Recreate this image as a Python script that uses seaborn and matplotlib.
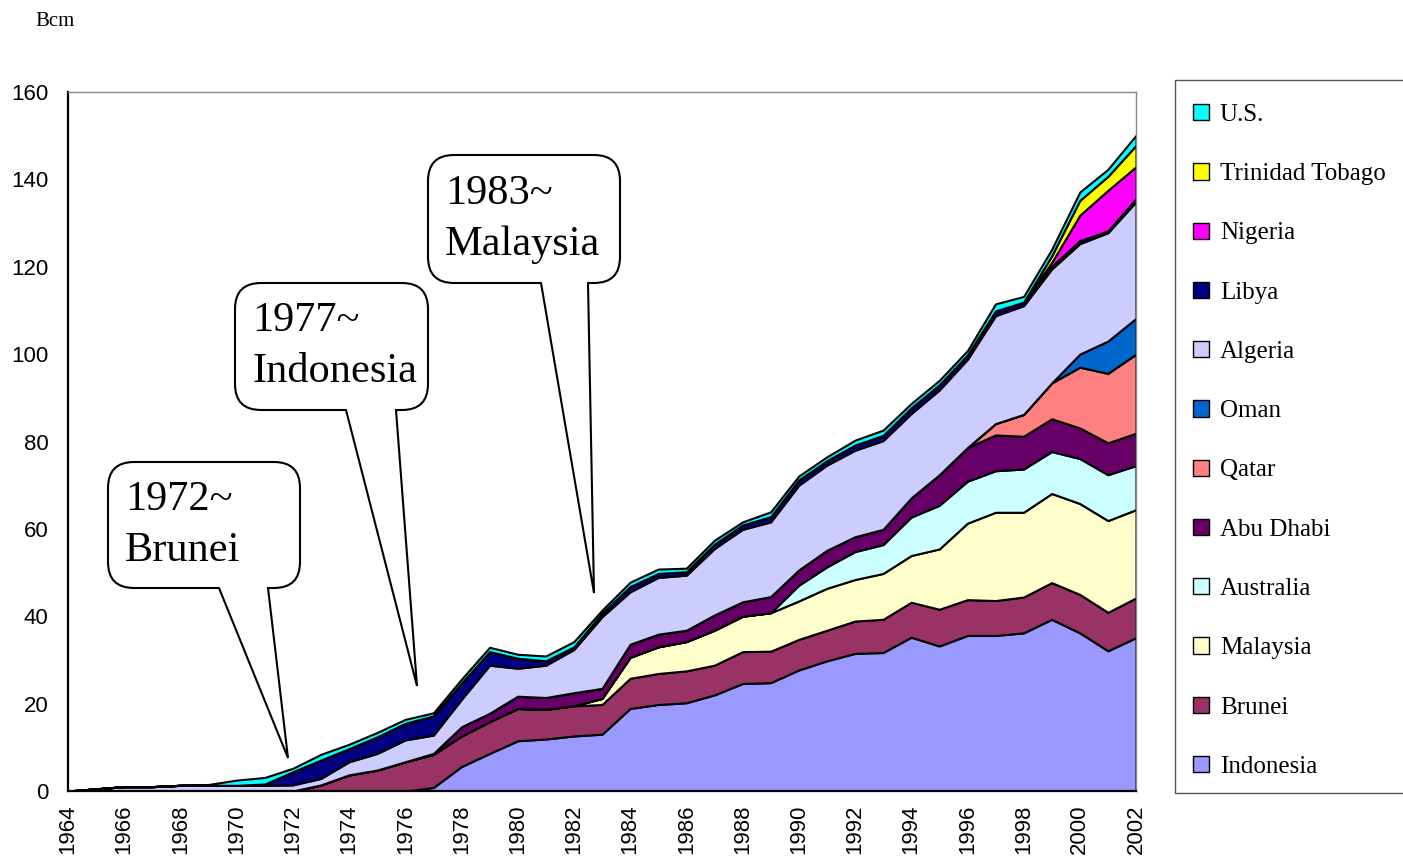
import matplotlib
matplotlib.use('Agg')
import matplotlib.pyplot as plt
import matplotlib.transforms as mtransforms
from matplotlib.patches import Patch, PathPatch, Rectangle
from matplotlib.path import Path
import seaborn as sns

# LNG imports by exporting country, Bcm
years = list(range(1964, 2003))

indonesia = [0] * 13 + [0.8, 5.6, 8.6, 11.5, 11.9, 12.6, 13.0, 18.9, 19.8, 20.2, 22.0, 24.6, 24.8,
                        27.7, 29.8, 31.5, 31.7, 35.2, 33.2, 35.6, 35.6, 36.2, 39.3, 36.2, 32.1, 35.1]
brunei = [0] * 9 + [1.4, 3.7, 4.8, 6.7, 7.6, 7.0, 7.3, 7.4, 6.8, 6.9, 6.8, 6.9, 7.1, 7.3, 6.8, 7.3,
                    7.2, 7.0, 7.0, 7.4, 7.6, 8.0, 8.4, 8.2, 8.0, 8.2, 8.4, 8.8, 8.8, 9.1]
malaysia = [0] * 19 + [1.4, 4.8, 6.1, 6.7, 8.0, 8.1, 8.8, 8.8, 9.6, 9.5, 10.5, 10.7, 13.8, 17.5,
                       20.2, 19.4, 20.4, 20.8, 21.0, 20.2]
australia = [0] * 26 + [3.6, 4.9, 6.4, 6.6, 8.8, 10.0, 9.6, 9.5, 9.9, 9.6, 10.3, 10.5, 10.1]
abu_dhabi = [0] * 13 + [0.2, 2.1, 1.9, 2.8, 2.7, 3.0, 2.3, 3.0, 2.9, 2.6, 3.5, 3.3, 3.7, 3.5, 3.8,
                        3.4, 3.5, 4.4, 7.0, 7.7, 8.2, 7.5, 7.5, 7.0, 7.3, 7.4]
qatar = [0] * 33 + [2.6, 5.0, 8.2, 13.9, 15.9, 18.1]
oman = [0] * 36 + [3.0, 7.4, 8.2]
algeria = [0, 0.5, 1.0, 1.0, 1.3, 1.3, 1.3, 1.3, 1.4, 1.5, 3.0, 3.8, 5.0, 4.2, 6.3, 11.0, 6.4, 7.4,
           9.9, 16.4, 12.0, 13.0, 12.6, 15.2, 16.6, 17.1, 19.4, 19.5, 19.8, 20.3, 19.3, 19.4, 20.2,
           24.7, 24.9, 26.1, 25.3, 24.8, 26.7]
libya = [0] * 7 + [0.3, 3.0, 4.2, 3.0, 3.8, 3.8, 4.4, 3.7, 3.1, 2.3, 1.0, 0.6, 0.8, 1.2, 0.9, 0.8,
                   1.0, 1.0, 1.2, 1.2, 1.0, 1.2, 1.2, 1.3, 1.2, 1.0, 1.1, 0.8, 0.6, 0.7, 0.4, 0.7]
nigeria = [0] * 35 + [0.9, 5.8, 9.3, 7.3]
trinidad = [0] * 35 + [1.5, 3.4, 3.2, 4.9]
us = [0] * 5 + [0.2, 1.2, 1.5, 0.8, 1.3, 1.0, 1.0, 0.9, 0.7, 0.9, 1.0, 0.9, 1.1, 1.2, 0.7, 1.0, 1.0,
                0.8, 0.9, 0.7, 1.1, 0.9, 0.9, 1.1, 1.2, 1.0, 1.0, 1.0, 1.6, 1.3, 1.5, 1.9, 1.6, 2.3]

labels = ['Indonesia', 'Brunei', 'Malaysia', 'Australia', 'Abu Dhabi', 'Qatar', 'Oman',
          'Algeria', 'Libya', 'Nigeria', 'Trinidad Tobago', 'U.S.']
series = [indonesia, brunei, malaysia, australia, abu_dhabi, qatar, oman,
          algeria, libya, nigeria, trinidad, us]
colors = ['#9999FF', '#993366', '#FFFFCC', '#CCFFFF', '#660066', '#FF8080', '#0066CC',
          '#CCCCFF', '#000080', '#FF00FF', '#FFFF00', '#00FFFF']

# callouts: text, box (left, top, right, bottom) and pointer in pixels
callouts = [
    ('1972~\nBrunei', (108, 462, 300, 588), (219, 268), (288, 758)),
    ('1977~\nIndonesia', (235, 283, 428, 410), (346, 396), (417, 686)),
    ('1983~\nMalaysia', (428, 155, 620, 283), (541, 588), (594, 593)),
]

sns.set_style('white')
plt.rcParams['font.family'] = ['Liberation Sans', 'DejaVu Sans']
plt.rcParams['text.color'] = 'black'

W, H = 1403, 864
fig = plt.figure(figsize=(W / 100, H / 100), dpi=100)
ax = fig.add_axes([68 / W, 1 - 791 / H, (1136 - 68) / W, (791 - 92) / H])

ax.stackplot(years, *series, colors=colors, edgecolor='black', linewidth=1.5, labels=labels)

ax.set_xlim(1964, 2002)
ax.set_ylim(0, 160)
ax.set_yticks(range(0, 161, 20))
ax.set_xticks(years)
ax.set_xticklabels([str(y) if y % 2 == 0 else '' for y in years], rotation=90)
ax.tick_params(axis='both', direction='in', length=8, width=1, color='#333333',
               labelsize=16, labelcolor='black')
ax.tick_params(axis='y', pad=14)
ax.tick_params(axis='x', pad=10)
for side in ['left', 'bottom']:
    ax.spines[side].set_color('black')
    ax.spines[side].set_linewidth(1.6)
for side in ['top', 'right']:
    ax.spines[side].set_color('#888888')
    ax.spines[side].set_linewidth(1)

# pixel coordinate transform (origin top-left)
px = mtransforms.Affine2D().scale(1 / W, -1 / H).translate(0, 1) + fig.transFigure

fig.text(35, 22, 'Bcm', transform=px, fontsize=15, family='Liberation Serif', va='center')


def callout_path(box, base, tip, r=26):
    l, t, rr, b = box
    verts = [(l + r, t), (rr - r, t), (rr, t), (rr, t + r), (rr, b - r), (rr, b), (rr - r, b),
             (base[1], b), tip, (base[0], b), (l + r, b), (l, b), (l, b - r), (l, t + r),
             (l, t), (l + r, t), (l + r, t)]
    codes = [Path.MOVETO, Path.LINETO, Path.CURVE3, Path.CURVE3, Path.LINETO, Path.CURVE3,
             Path.CURVE3, Path.LINETO, Path.LINETO, Path.LINETO, Path.LINETO, Path.CURVE3,
             Path.CURVE3, Path.LINETO, Path.CURVE3, Path.CURVE3, Path.CLOSEPOLY]
    return Path(verts, codes)


for text, box, base, tip in callouts:
    patch = PathPatch(callout_path(box, base, tip), transform=px, facecolor='white',
                      edgecolor='black', linewidth=1.5, zorder=5)
    fig.patches.append(patch)
    fig.text(box[0] + 17, (box[1] + box[3]) / 2, text, transform=px, fontsize=30.5,
             family='Liberation Serif', va='center', ha='left', linespacing=1.42, zorder=6)

# legend, reversed so U.S. sits on top
handles = [Patch(facecolor=c, edgecolor='black', linewidth=1) for c in colors]
fig.legend(handles[::-1], labels[::-1], loc='upper left', bbox_to_anchor=(1193 / W, 1 - 104 / H),
           frameon=False, prop={'family': 'Liberation Serif', 'size': 18}, labelspacing=1.49,
           handlelength=0.62, handleheight=0.62, handletextpad=0.45, borderpad=0, borderaxespad=0)
fig.patches.append(Rectangle((1175, 80), 240, 713, transform=px, fill=False,
                             edgecolor='#555555', linewidth=1))

fig.savefig('out.png', dpi=100)
